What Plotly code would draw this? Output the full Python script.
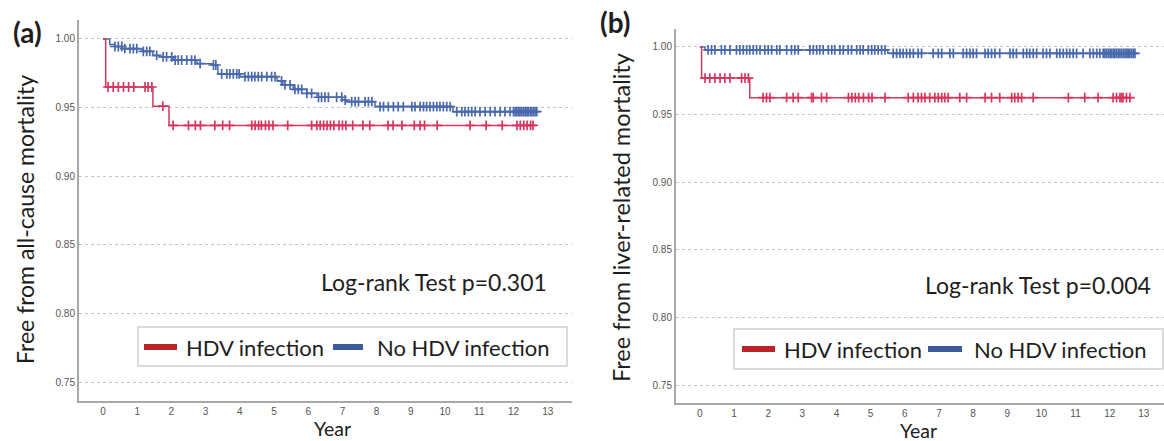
import numpy as np
import plotly.graph_objects as go

W, H = 1164, 441

x_ticks = list(range(0, 14))
y_ticks = [0.75, 0.80, 0.85, 0.90, 0.95, 1.00]

# ---------- Panel (a): all-cause mortality ----------
a_hdv_time = [0.0, 0.08, 1.46, 1.93]
a_hdv_surv = [1.000, 0.965, 0.951, 0.937]
a_hdv_end = 12.63
a_hdv_cens = [0.15, 0.30, 0.45, 0.60, 0.75, 0.90, 1.23, 1.32, 1.43, 1.75, 2.05, 2.50,
              2.70, 2.85, 3.27, 3.50, 3.70, 4.35, 4.45, 4.55, 4.63, 4.75, 4.85, 4.97,
              5.40, 6.10, 6.25, 6.35, 6.45, 6.55, 6.65, 6.75, 6.90, 7.00, 7.10, 7.30,
              7.60, 7.80, 8.33, 8.48, 8.74, 9.10, 9.27, 9.40, 9.77, 10.73, 11.20, 11.67,
              12.10, 12.20, 12.30, 12.40, 12.50, 12.57]

a_no_time = [0.0, 0.20, 0.35, 0.56, 1.14, 1.46, 1.67, 2.05, 2.75, 3.22, 3.36, 4.00,
             5.09, 5.26, 5.56, 5.96, 6.26, 6.99, 7.13, 7.95, 10.23]
a_no_surv = [1.000, 0.996, 0.9945, 0.9929, 0.991, 0.988, 0.987, 0.9845, 0.982, 0.981,
             0.9745, 0.9725, 0.9695, 0.9665, 0.9633, 0.9604, 0.9575, 0.9555, 0.9543,
             0.9507, 0.947]
a_no_end = 12.72
a_no_cens = [0.35, 0.45, 0.55, 0.64, 0.79, 0.89, 0.99, 1.18, 1.28, 1.37, 1.57, 1.76,
             1.86, 2.01, 2.11, 2.20, 2.30, 2.45, 2.59, 2.69, 2.84, 3.23, 3.30, 3.47,
             3.62, 3.71, 3.81, 3.91, 3.98, 4.15, 4.25, 4.35, 4.44, 4.54, 4.64, 4.79,
             4.93, 5.03, 5.22, 5.32, 5.47, 5.61, 5.71, 5.81, 5.96, 6.10, 6.30, 6.39,
             6.49, 6.59, 6.83, 6.98, 7.08, 7.27, 7.37, 7.47, 7.66, 7.76, 7.86, 8.10,
             8.20, 8.34, 8.49, 8.63, 8.78, 9.03, 9.12, 9.27, 9.37, 9.46, 9.56, 9.66,
             9.76, 9.85, 9.95, 10.05, 10.15, 10.34, 10.49, 10.58, 10.68, 10.78, 10.88,
             11.02, 11.17, 11.32, 11.46, 11.61, 11.75, 11.90, 12.00, 12.05, 12.10,
             12.15, 12.19, 12.24, 12.29, 12.34, 12.39, 12.43, 12.49, 12.53, 12.58,
             12.63, 12.68]

# ---------- Panel (b): liver-related mortality ----------
b_hdv_time = [0.0, 0.05, 1.46]
b_hdv_surv = [1.000, 0.977, 0.9625]
b_hdv_end = 12.65
b_hdv_cens = [0.15, 0.29, 0.44, 0.59, 0.73, 0.88, 1.22, 1.32, 1.42, 1.85, 1.95, 2.05,
              2.54, 2.73, 2.88, 3.27, 3.32, 3.56, 3.71, 4.35, 4.45, 4.55, 4.65, 4.79,
              4.94, 5.04, 5.42, 6.10, 6.25, 6.39, 6.49, 6.59, 6.73, 6.88, 6.98, 7.08,
              7.17, 7.27, 7.61, 7.81, 8.35, 8.54, 8.78, 9.13, 9.22, 9.32, 9.42, 9.76,
              10.79, 11.27, 11.66, 12.10, 12.20, 12.30, 12.35, 12.39, 12.49, 12.59]

b_no_time = [0.0, 0.15, 5.50]
b_no_surv = [1.000, 0.9978, 0.9953]
b_no_end = 12.78
b_no_cens = [0.24, 0.34, 0.44, 0.63, 0.73, 0.88, 1.07, 1.17, 1.27, 1.37, 1.46, 1.56,
             1.66, 1.76, 1.90, 2.00, 2.10, 2.25, 2.34, 2.54, 2.68, 2.78, 2.88, 3.22,
             3.32, 3.42, 3.51, 3.61, 3.76, 3.86, 3.95, 4.10, 4.20, 4.34, 4.44, 4.59,
             4.69, 4.78, 4.93, 5.03, 5.12, 5.22, 5.32, 5.42, 5.66, 5.76, 5.86, 5.95,
             6.05, 6.15, 6.25, 6.39, 6.49, 6.83, 6.98, 7.08, 7.32, 7.42, 7.71, 7.81,
             7.91, 8.00, 8.10, 8.35, 8.44, 8.54, 8.64, 8.78, 9.08, 9.17, 9.27, 9.47,
             9.57, 9.66, 9.76, 9.86, 10.05, 10.15, 10.25, 10.45, 10.54, 10.64, 10.74,
             10.83, 10.93, 11.03, 11.22, 11.42, 11.52, 11.62, 11.71, 11.81, 11.86,
             11.91, 11.96, 12.01, 12.06, 12.11, 12.15, 12.20, 12.25, 12.30, 12.35,
             12.40, 12.45, 12.50, 12.54, 12.59, 12.64, 12.69, 12.74]

series_names = ["HDV infection", "No HDV infection"]
panel_titles = ["(a)", "(b)"]
y_titles = ["Free from all-cause mortality", "Free from liver-related mortality"]
pvalue_texts = ["Log-rank Test p=0.301", "Log-rank Test p=0.004"]

RED = "#d6375f"
BLUE = "#4a69ad"
RED_LEG = "#b82429"
BLUE_LEG = "#3b5b9c"
FONT = "Lato"
TXT = "#1e1e1e"

fig = go.Figure()


def add_km(times, surv, end, cens, color, xa, ya, name):
    xs = list(times) + [end]
    ys = list(surv) + [surv[-1]]
    fig.add_trace(go.Scatter(x=xs, y=ys, mode="lines", line=dict(color=color, width=1.5, shape="hv"),
                             xaxis=xa, yaxis=ya, showlegend=False, name=name, hoverinfo="skip"))
    idx = np.searchsorted(np.array(times), np.array(cens), side="right") - 1
    cy = [surv[i] for i in idx]
    fig.add_trace(go.Scatter(x=cens, y=cy, mode="markers",
                             marker=dict(symbol="cross-thin", size=7, color=color,
                                         line=dict(color=color, width=1.7)),
                             xaxis=xa, yaxis=ya, showlegend=False, name=name, hoverinfo="skip"))


add_km(a_no_time, a_no_surv, a_no_end, a_no_cens, BLUE, "x", "y", series_names[1])
add_km(a_hdv_time, a_hdv_surv, a_hdv_end, a_hdv_cens, RED, "x", "y", series_names[0])
add_km(b_no_time, b_no_surv, b_no_end, b_no_cens, BLUE, "x2", "y2", series_names[1])
add_km(b_hdv_time, b_hdv_surv, b_hdv_end, b_hdv_cens, RED, "x2", "y2", series_names[0])

axis_common = dict(showline=True, linecolor="#a8a8a8", linewidth=2, ticks="", ticklen=0,
                   zeroline=False, tickfont=dict(family="Liberation Sans", size=10, color="#555555"))

fig.update_layout(
    width=W, height=H, margin=dict(l=0, r=0, t=0, b=0),
    paper_bgcolor="white", plot_bgcolor="white", showlegend=False,
    xaxis=dict(domain=[79 / W, 572 / W], range=[-0.70, 13.71], tickvals=x_ticks,
               showgrid=False, anchor="y", **axis_common),
    yaxis=dict(domain=[(H - 401) / H, (H - 20) / H], range=[0.7362, 1.0138], tickvals=y_ticks,
               tickformat=".2f", showgrid=True, gridcolor="#c4c4c4", griddash="dot", gridwidth=1,
               anchor="x", **axis_common),
    xaxis2=dict(domain=[676 / W, 1.0], range=[-0.70, 13.59], tickvals=x_ticks,
                showgrid=False, anchor="y2", **axis_common),
    yaxis2=dict(domain=[(H - 403) / H, (H - 29) / H], range=[0.7367, 1.0133], tickvals=y_ticks,
                tickformat=".2f", showgrid=True, gridcolor="#c4c4c4", griddash="dot", gridwidth=1,
                anchor="x2", **axis_common),
)


def px(x):
    return x / W


def py(y):
    return 1 - y / H


def note(text, x, y, size, xanchor="center", angle=0, bold=False):
    return dict(text=f"<b>{text}</b>" if bold else text, x=px(x), y=py(y), xref="paper", yref="paper",
                xanchor=xanchor, yanchor="middle", textangle=angle, showarrow=False,
                font=dict(family=FONT, size=size, color=TXT))


ann = []
shapes = []
# panel labels
ann.append(note(panel_titles[0], 27, 32, 28, bold=True))
ann.append(note(panel_titles[1], 615, 22, 28, bold=True))
# y titles
ann.append(note(y_titles[0], 25, 220, 23, angle=-90))
ann.append(note(y_titles[1], 621, 218, 23.5, angle=-90))
# x titles
ann.append(note("Year", 332, 428, 19.5))
ann.append(note("Year", 918, 430, 19.5))
# p-values
ann.append(note(pvalue_texts[0], 434, 282, 23))
ann.append(note(pvalue_texts[1], 1038, 285, 23))

# legends
legend_specs = [
    dict(box=(138, 327, 567, 366), red=(144, 177), red_txt=184, blue=(333, 363), blue_txt=375, yc=347),
    dict(box=(734, 329, 1163, 369), red=(742, 775), red_txt=782, blue=(928, 962), blue_txt=972, yc=349),
]
for L in legend_specs:
    x0, y0, x1, y1 = L["box"]
    shapes.append(dict(type="rect", xref="paper", yref="paper", x0=px(x0), x1=px(x1), y0=py(y1), y1=py(y0),
                       line=dict(color="#cfcfcf", width=1.5), fillcolor="white", layer="above"))
    for (a, b), col in [(L["red"], RED_LEG), (L["blue"], BLUE_LEG)]:
        shapes.append(dict(type="line", xref="paper", yref="paper", x0=px(a), x1=px(b),
                           y0=py(L["yc"]), y1=py(L["yc"]), line=dict(color=col, width=6), layer="above"))
    ann.append(note(series_names[0], L["red_txt"], L["yc"], 22, xanchor="left"))
    ann.append(note(series_names[1], L["blue_txt"], L["yc"], 22, xanchor="left"))

fig.update_layout(annotations=ann, shapes=shapes)
fig.write_html("out.html")
